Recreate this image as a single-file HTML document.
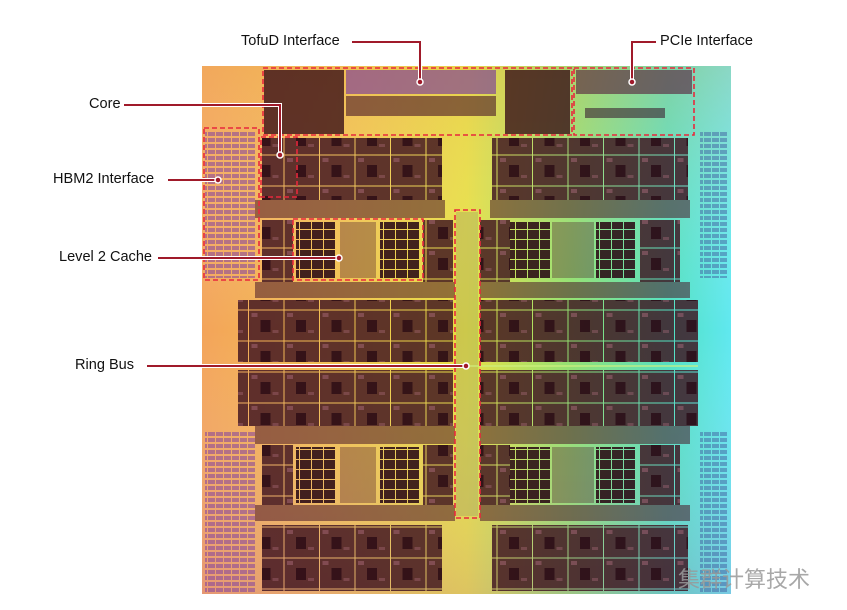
<!DOCTYPE html>
<html><head><meta charset="utf-8"><style>
html,body{margin:0;padding:0;background:#fff;width:847px;height:610px;overflow:hidden}
.l{position:absolute;font-family:"Liberation Sans",sans-serif;font-size:15px;color:#111;white-space:nowrap;transform:scaleX(0.97);transform-origin:left center}
</style></head><body>
<svg width="847" height="610" style="position:absolute;left:0;top:0">
<defs>
<linearGradient id="g" x1="0" x2="1" y1="0" y2="0">
<stop offset="0" stop-color="#f3a45a"/><stop offset="0.25" stop-color="#f2c050"/><stop offset="0.5" stop-color="#e6e040"/><stop offset="0.7" stop-color="#8fe070"/><stop offset="0.88" stop-color="#50e0c0"/><stop offset="1" stop-color="#60e8f0"/>
</linearGradient>
<linearGradient id="gv" x1="0" x2="0" y1="0" y2="1">
<stop offset="0" stop-color="#f0b060" stop-opacity="0.3"/><stop offset="0.5" stop-color="#fff" stop-opacity="0"/><stop offset="1" stop-color="#c070c0" stop-opacity="0.25"/>
</linearGradient>
<pattern id="core" width="35.5" height="31" patternUnits="userSpaceOnUse">
<rect x="0.5" y="0.5" width="34.5" height="30" fill="#3e1220" opacity="0.82"/>
<rect x="12" y="10" width="10" height="12" fill="#24060f" opacity="0.7"/>
<rect x="3" y="3" width="6" height="4" fill="#b07080" opacity="0.45"/>
<rect x="24" y="20" width="6" height="3" fill="#b07080" opacity="0.35"/>
</pattern>
<pattern id="l2" width="12" height="10" patternUnits="userSpaceOnUse">
<rect x="0" y="0" width="11" height="9" fill="#2a0a14" opacity="0.88"/>
</pattern>
<pattern id="io" width="8" height="6" patternUnits="userSpaceOnUse">
<rect x="0" y="0" width="7" height="4" fill="#8040a0" opacity="0.55"/>
</pattern>
<pattern id="io2" width="8" height="6" patternUnits="userSpaceOnUse">
<rect x="0" y="0" width="7" height="4" fill="#4060a0" opacity="0.5"/>
</pattern>
</defs>
<rect x="202" y="66" width="529" height="528" fill="url(#g)"/>
<rect x="202" y="66" width="529" height="528" fill="url(#gv)"/>
<rect x="264" y="70" width="80" height="64" fill="#3a1018" opacity="0.8"/>
<rect x="346" y="70" width="150" height="24" fill="#7030a0" opacity="0.6"/>
<rect x="346" y="96" width="150" height="20" fill="#4a1828" opacity="0.6"/>
<rect x="505" y="70" width="65" height="64" fill="#3a1018" opacity="0.8"/>
<rect x="576" y="70" width="116" height="24" fill="#5a2840" opacity="0.65"/>
<rect x="585" y="108" width="80" height="10" fill="#3a2030" opacity="0.6"/>
<rect x="205" y="130" width="50" height="148" fill="url(#io)"/>
<rect x="205" y="432" width="50" height="160" fill="url(#io)"/>
<rect x="700" y="130" width="28" height="148" fill="url(#io2)"/>
<rect x="700" y="432" width="28" height="160" fill="url(#io2)"/>
<rect x="262" y="138" width="180" height="62" fill="url(#core)"/>
<rect x="492" y="138" width="196" height="62" fill="url(#core)"/>
<rect x="255" y="200" width="190" height="18" fill="#4a1828" opacity="0.55"/>
<rect x="490" y="200" width="200" height="18" fill="#4a1828" opacity="0.55"/>
<rect x="262" y="220" width="31" height="62" fill="url(#core)"/>
<rect x="423" y="220" width="30" height="62" fill="url(#core)"/>
<rect x="296" y="222" width="40" height="56" fill="url(#l2)"/>
<rect x="380" y="222" width="40" height="56" fill="url(#l2)"/>
<rect x="340" y="222" width="36" height="56" fill="#4a1828" opacity="0.35"/>
<rect x="480" y="220" width="30" height="62" fill="url(#core)"/>
<rect x="510" y="222" width="40" height="56" fill="url(#l2)"/>
<rect x="596" y="222" width="40" height="56" fill="url(#l2)"/>
<rect x="552" y="222" width="42" height="56" fill="#4a1828" opacity="0.35"/>
<rect x="640" y="220" width="40" height="62" fill="url(#core)"/>
<rect x="255" y="282" width="200" height="16" fill="#4a1828" opacity="0.55"/>
<rect x="480" y="282" width="210" height="16" fill="#4a1828" opacity="0.55"/>
<rect x="238" y="300" width="215" height="62" fill="url(#core)"/>
<rect x="238" y="370" width="215" height="56" fill="url(#core)"/>
<rect x="480" y="300" width="218" height="62" fill="url(#core)"/>
<rect x="480" y="370" width="218" height="56" fill="url(#core)"/>
<rect x="255" y="426" width="200" height="18" fill="#4a1828" opacity="0.55"/>
<rect x="480" y="426" width="210" height="18" fill="#4a1828" opacity="0.55"/>
<rect x="262" y="445" width="31" height="60" fill="url(#core)"/>
<rect x="296" y="447" width="40" height="56" fill="url(#l2)"/>
<rect x="380" y="447" width="40" height="56" fill="url(#l2)"/>
<rect x="340" y="447" width="36" height="56" fill="#4a1828" opacity="0.35"/>
<rect x="423" y="445" width="30" height="60" fill="url(#core)"/>
<rect x="480" y="445" width="30" height="60" fill="url(#core)"/>
<rect x="510" y="447" width="40" height="56" fill="url(#l2)"/>
<rect x="596" y="447" width="40" height="56" fill="url(#l2)"/>
<rect x="552" y="447" width="42" height="56" fill="#4a1828" opacity="0.35"/>
<rect x="640" y="445" width="40" height="60" fill="url(#core)"/>
<rect x="255" y="505" width="200" height="16" fill="#4a1828" opacity="0.55"/>
<rect x="480" y="505" width="210" height="16" fill="#4a1828" opacity="0.55"/>
<rect x="262" y="525" width="180" height="66" fill="url(#core)"/>
<rect x="492" y="525" width="196" height="66" fill="url(#core)"/>
<rect x="456" y="212" width="22" height="304" fill="#9a9a60" opacity="0.35"/>
<line x1="238" y1="366" x2="698" y2="366" stroke="#d0f080" stroke-width="2" opacity="0.6"/>
<g fill="none" stroke="#e8283c" stroke-width="1.6" stroke-dasharray="5,3">
<rect x="263" y="68" width="309" height="67"/>
<rect x="574" y="68" width="120" height="67"/>
<rect x="261" y="137" width="36" height="60"/>
<rect x="204" y="128" width="55" height="152"/>
<rect x="293" y="219" width="130" height="61"/>
<rect x="455" y="210" width="25" height="308"/>
</g>
<g fill="none" stroke="#fff" stroke-width="4">
<polyline points="352,42 420,42 420,82"/><polyline points="656,42 632,42 632,82"/>
<polyline points="124,105 280,105 280,155"/><line x1="168" y1="180" x2="218" y2="180"/>
<line x1="158" y1="258" x2="339" y2="258"/><line x1="147" y1="366" x2="466" y2="366"/>
</g>
<g fill="none" stroke="#a01a2a" stroke-width="2">
<polyline points="352,42 420,42 420,82"/><polyline points="656,42 632,42 632,82"/>
<polyline points="124,105 280,105 280,155"/><line x1="168" y1="180" x2="218" y2="180"/>
<line x1="158" y1="258" x2="339" y2="258"/><line x1="147" y1="366" x2="466" y2="366"/>
</g>
<g fill="#a01a2a" stroke="#fff" stroke-width="1.5">
<circle cx="420" cy="82" r="3"/><circle cx="632" cy="82" r="3"/><circle cx="280" cy="155" r="3"/>
<circle cx="218" cy="180" r="3"/><circle cx="339" cy="258" r="3"/><circle cx="466" cy="366" r="3"/>
</g>
</svg>
<div class="l" style="left:241px;top:32px">TofuD Interface</div>
<div class="l" style="left:660px;top:32px">PCIe Interface</div>
<div class="l" style="left:89px;top:95px">Core</div>
<div class="l" style="left:53px;top:170px">HBM2 Interface</div>
<div class="l" style="left:59px;top:248px">Level 2 Cache</div>
<div class="l" style="left:75px;top:356px">Ring Bus</div>
<div style="position:absolute;left:678px;top:562px;font-family:'Liberation Sans','Noto Sans CJK SC',sans-serif;font-size:22px;color:#999;opacity:0.85">集群计算技术</div>
</body></html>
